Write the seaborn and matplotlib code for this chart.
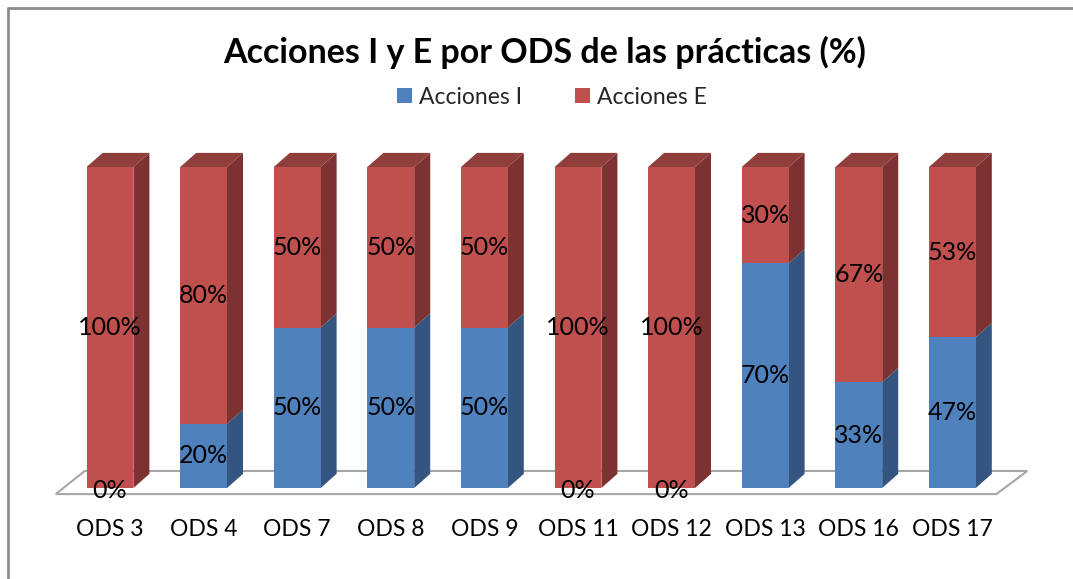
import matplotlib.pyplot as plt
import numpy as np
import pandas as pd
import seaborn as sns
from matplotlib.lines import Line2D
from matplotlib.patches import Patch, Polygon

categories = ["ODS 3", "ODS 4", "ODS 7", "ODS 8", "ODS 9", "ODS 11", "ODS 12", "ODS 13", "ODS 16", "ODS 17"]
acciones_i = [0, 20, 50, 50, 50, 0, 0, 70, 33, 47]
acciones_e = [100, 80, 50, 50, 50, 100, 100, 30, 67, 53]
series_names = ["Acciones I", "Acciones E"]
title = "Acciones I y E por ODS de las prácticas (%)"

BLUE = "#4F81BD"
BLUE_SIDE = "#33557F"
BLUE_TOP = "#3D6596"
RED = "#C0504D"
RED_SIDE = "#7B3230"
RED_TOP = "#8F3E3B"
FONT = ["Lato", "DejaVu Sans"]

W, H = 1073, 579
BAR_WIDTH = 0.5
DX = 0.171  # depth offset in category units
DY = 4.4    # depth offset in percent units
LABEL_SIZE = 18
TICK_SIZE = 16.5

df = pd.DataFrame({"ods": categories, "i": acciones_i, "e": acciones_e})
df["total"] = df["i"] + df["e"]

sns.set_theme(style="white")
plt.rcParams["font.family"] = FONT

fig = plt.figure(figsize=(W / 100, H / 100), dpi=100)
ax = fig.add_axes([0, 0, 1, 1])

# pixel mapping: category i centred at 110 + 93.6*i, 0% at y=488, 100% at y=167
px_per_cat = 93.6
px_per_pct = 3.21
xlim = ((0 - 110) / px_per_cat, (W - 110) / px_per_cat)
ylim = ((488 - H) / px_per_pct, 488 / px_per_pct)

n = len(categories)

# floor
floor = Polygon(
    [(-0.58, -1.9), (-0.27, 5.3), (n - 1 + 0.8, 5.3), (n - 1 + 0.47, -1.9)],
    closed=True, facecolor="white", edgecolor="#A6A6A6", linewidth=1.5, zorder=1,
)
ax.add_patch(floor)

sns.barplot(data=df, x="ods", y="total", color=RED, width=BAR_WIDTH,
            saturation=1, ax=ax, zorder=3, linewidth=0)
sns.barplot(data=df, x="ods", y="i", color=BLUE, width=BAR_WIDTH,
            saturation=1, ax=ax, zorder=4, linewidth=0)
ax.axis("off")
ax.set_xlim(*xlim)
ax.set_ylim(*ylim)

for k, row in df.iterrows():
    xr = k + BAR_WIDTH / 2
    xl = k - BAR_WIDTH / 2
    segments = [(0, row["i"], BLUE_SIDE), (row["i"], row["total"], RED_SIDE)]
    for y0, y1, col in segments:
        if y1 > y0:
            ax.add_patch(Polygon(
                [(xr, y0), (xr + DX, y0 + DY), (xr + DX, y1 + DY), (xr, y1)],
                closed=True, facecolor=col, edgecolor="none", zorder=2,
            ))
    top_col = RED_TOP if row["e"] > 0 else BLUE_TOP
    t = row["total"]
    ax.add_patch(Polygon(
        [(xl, t), (xl + DX, t + DY), (xr + DX, t + DY), (xr, t)],
        closed=True, facecolor=top_col, edgecolor="none", zorder=2,
    ))

    # data labels
    ax.text(k, row["i"] / 2 if row["i"] > 0 else -0.8, f"{row['i']}%",
            ha="center", va="center", fontsize=LABEL_SIZE, color="black", zorder=6)
    ax.text(k, row["i"] + row["e"] / 2, f"{row['e']}%",
            ha="center", va="center", fontsize=LABEL_SIZE, color="black", zorder=6)

    # category labels
    ax.text(k, (488 - 530) / px_per_pct, row["ods"], ha="center", va="center",
            fontsize=TICK_SIZE, color="black")

fig.text(545 / W, 1 - 52 / H, title, ha="center", va="center",
         fontsize=24.5, fontweight="bold", color="black")

handles = [Patch(facecolor=BLUE, edgecolor="none"), Patch(facecolor=RED, edgecolor="none")]
fig.legend(handles, series_names, loc="center", bbox_to_anchor=(552 / W, 1 - 97 / H),
           ncol=2, frameon=False, fontsize=16.5, handlelength=0.65, handleheight=0.65,
           handletextpad=0.3, columnspacing=2.3)

# chart frame (top and left edges visible)
fig.add_artist(Line2D([7.5 / W, 1], [1 - 7.5 / H, 1 - 7.5 / H], transform=fig.transFigure,
                      color="#8C8C8C", linewidth=2))
fig.add_artist(Line2D([7.5 / W, 7.5 / W], [0, 1 - 7.5 / H], transform=fig.transFigure,
                      color="#8C8C8C", linewidth=2))

fig.savefig("out.png", dpi=100)
